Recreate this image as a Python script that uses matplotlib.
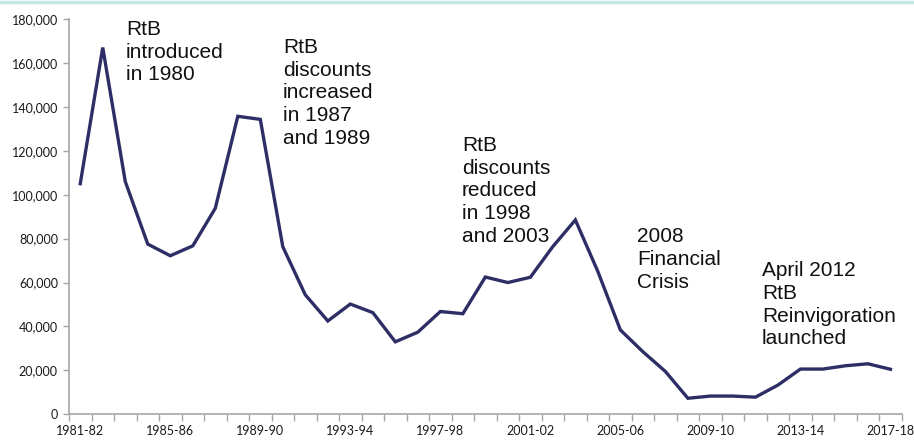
import matplotlib
matplotlib.use("Agg")
import matplotlib.pyplot as plt
from matplotlib.ticker import FuncFormatter

years = ["1981-82","1982-83","1983-84","1984-85","1985-86","1986-87","1987-88","1988-89",
         "1989-90","1990-91","1991-92","1992-93","1993-94","1994-95","1995-96","1996-97",
         "1997-98","1998-99","1999-00","2000-01","2001-02","2002-03","2003-04","2004-05",
         "2005-06","2006-07","2007-08","2008-09","2009-10","2010-11","2011-12","2012-13",
         "2013-14","2014-15","2015-16","2016-17","2017-18"]
sales = [105000, 167000, 106000, 77500, 72200, 76700, 93800, 135700,
         134300, 76300, 54400, 42500, 50200, 46300, 33000, 37400,
         46800, 45800, 62500, 60000, 62400, 76400, 88500, 65000,
         38400, 28500, 19500, 7300, 8300, 8300, 7800, 13300,
         20600, 20600, 22100, 23000, 20500]

annotations = [
    ("RtB\nintroduced\nin 1980", 126, 24),
    ("RtB\ndiscounts\nincreased\nin 1987\nand 1989", 283, 42),
    ("RtB\ndiscounts\nreduced\nin 1998\nand 2003", 462, 140),
    ("2008\nFinancial\nCrisis", 637, 231),
    ("April 2012\nRtB\nReinvigoration\nlaunched", 762, 265),
]

W, H = 914, 445
fig = plt.figure(figsize=(W/100, H/100), dpi=100)
ax = fig.add_axes([69/W, (H-414.3)/H, (901.7-69)/W, (414.3-19)/H])

x = list(range(len(years)))
ax.plot(x, sales, color="#2e2e66", lw=2.4, solid_joinstyle="miter")

ax.set_xlim(-0.5, len(years)-0.5)
ax.set_ylim(0, 180000)
ax.set_yticks(range(0, 180001, 20000))
ax.yaxis.set_major_formatter(FuncFormatter(lambda v, p: f"{int(v):,}"))

ax.set_xticks([i-0.5 for i in range(len(years)+1)])
ax.set_xticklabels([])
ax.set_xticks(list(range(0, len(years), 4)), minor=True)
ax.set_xticklabels([years[i] for i in range(0, len(years), 4)], minor=True)
ax.tick_params(axis="x", which="major", length=5, width=1, color="#a6a6a6", direction="out")
ax.tick_params(axis="x", which="minor", length=0, pad=8)
ax.tick_params(axis="y", length=4, width=1, color="#a6a6a6", pad=4)
for lab in ax.get_xticklabels(minor=True) + ax.get_yticklabels():
    lab.set_fontfamily("Lato")
    lab.set_fontsize(9)
    lab.set_color("#1a1a1a")

for s in ["top", "right"]:
    ax.spines[s].set_visible(False)
for s in ["left", "bottom"]:
    ax.spines[s].set_color("#a6a6a6")
    ax.spines[s].set_linewidth(1.2)

for txt, px, py in annotations:
    fig.text(px/W, 1-(py-4)/H, txt, ha="left", va="top", fontsize=15,
             family="Liberation Sans", color="#111111", linespacing=1.25)

fig.add_artist(plt.Line2D([0, 1], [1-1.5/H, 1-1.5/H], color="#c3e6e6", lw=2.5,
                          transform=fig.transFigure))

fig.savefig("out.png", dpi=100)
